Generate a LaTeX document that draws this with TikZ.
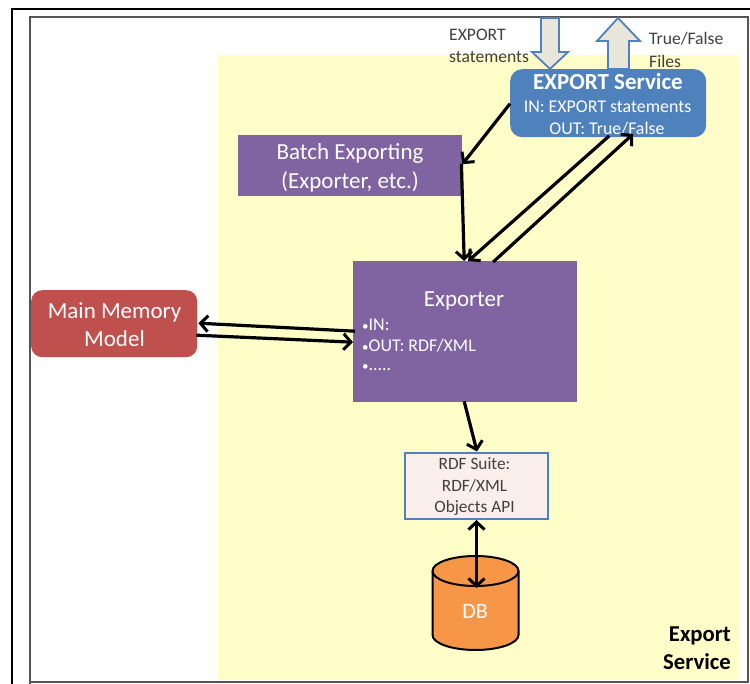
\documentclass[tikz,border=0pt]{standalone}
\usepackage{fontspec}
\setmainfont{Carlito}
\usetikzlibrary{arrows.meta,shapes.geometric,calc}
\definecolor{yel}{HTML}{FFFDC8}
\definecolor{purp}{HTML}{8064A2}
\definecolor{blu}{HTML}{4F81BD}
\definecolor{redb}{HTML}{C0504D}
\definecolor{org}{HTML}{F79646}
\definecolor{pinkb}{HTML}{FBEFEC}
\definecolor{bigfill}{HTML}{E8E6DA}
\definecolor{inner}{HTML}{555555}
\newcommand{\smallbul}{{\fontsize{13}{13}\selectfont •}}
\tikzset{
  x=1pt,y=-1pt,
  tipb/.tip={Straight Barb[length=7.5pt,width=16pt,line width=3pt]},
  boxtext/.style={text=white,align=center,inner sep=0pt},
  purpbox/.style={fill=purp,draw=none,inner sep=0pt,rectangle},
  conn/.style={draw=black,line width=3.2pt,-tipb},
  bigarrow/.style={fill=bigfill,draw=blu,line width=1.8pt,line join=miter},
  caption/.style={text=black!75,align=left,inner sep=0pt,anchor=west,font=\fontsize{17.6}{20}\selectfont},
}
\begin{document}
\begin{tikzpicture}
\useasboundingbox (0,0) rectangle (750,684);
\fill[white] (0,0) rectangle (750,684);
% frames
\draw[black,line width=2pt] (750,9.5) -- (11.5,9.5) -- (11.5,684);
\draw[inner,line width=1.2pt] (30,684) -- (30,17) -- (748,17) -- (748,682) -- (30,682);
% yellow panel
\node[fill=yel,draw=none,inner sep=0pt,minimum width=521pt,minimum height=625pt,anchor=north west] (panel) at (218,55) {};
% big arrows
\path[bigarrow] (541,18) -- (559,18) -- (559,52) -- (568,52) -- (550,69) -- (532,52) -- (541,52) -- cycle;
\path[bigarrow] (608,69) -- (608,41) -- (597,41) -- (618,18) -- (640,41) -- (629,41) -- (629,69) -- cycle;
% captions
\node[caption] (capa) at (449,35) {EXPORT};
\node[caption] (capb) at (449,57) {statements};
\node[caption] (capc) at (649,39) {True/False};
\node[caption] (capd) at (649,61) {Files};
% boxes
\node[fill=blu,draw=none,rounded corners=12pt,minimum width=196pt,minimum height=68pt,anchor=north west,inner sep=0pt] (svc) at (510,69) {};
\node[boxtext,font=\bfseries\fontsize{23}{24}\selectfont] (svct) at (608,82) {EXPORT Service};
\node[boxtext,font=\fontsize{17.9}{20}\selectfont] (svca) at (607.5,107) {IN: EXPORT statements};
\node[boxtext,font=\fontsize{17.9}{20}\selectfont] (svcb) at (607,129) {OUT: True/False};

\node[purpbox,minimum width=224pt,minimum height=61pt,anchor=north west] (batch) at (238,135) {};
\node[boxtext,font=\fontsize{23}{29}\selectfont] (batcht) at (350,167.5) {Batch Exporting\\(Exporter, etc.)};

\node[purpbox,minimum width=224pt,minimum height=141pt,anchor=north west] (exp) at (353,261) {};
\node[boxtext,font=\fontsize{23}{24}\selectfont] (expt) at (464,301) {Exporter};
\node[boxtext,anchor=west,font=\fontsize{17.9}{20}\selectfont] (expa) at (362,325) {\smallbul IN:};
\node[boxtext,anchor=west,font=\fontsize{17.9}{20}\selectfont] (expb) at (362,346) {\smallbul OUT: RDF/XML};
\node[boxtext,anchor=west,font=\fontsize{17.9}{20}\selectfont] (expc) at (362,368) {\smallbul .....};

\node[fill=redb,draw=none,rounded corners=11pt,minimum width=166pt,minimum height=67pt,anchor=north west,inner sep=0pt] (mem) at (31,290) {};
\node[boxtext,font=\fontsize{23}{28}\selectfont] (memt) at (114.5,324.5) {Main Memory\\Model};

\node[fill=pinkb,draw=blu,line width=2pt,minimum width=143pt,minimum height=66pt,anchor=north west,inner sep=0pt] (rdf) at (404,452) {};
\node[inner sep=0pt,text=black!75,align=center,font=\fontsize{17.3}{21.5}\selectfont] (rdft) at (474.5,487) {RDF Suite:\\RDF/XML\\Objects API};

% database
\node[inner sep=0pt,minimum width=87pt,minimum height=95pt,anchor=north west] (db) at (432,555) {};
\draw[fill=org,draw=black,line width=2pt] (432.5,571) -- (432.5,635) arc[start angle=180,end angle=0,x radius=43pt,y radius=-15pt] -- (518.5,571) arc[start angle=0,end angle=-180,x radius=43pt,y radius=-15pt] -- cycle;
\draw[black,line width=2pt] (432.5,571) arc[start angle=180,end angle=0,x radius=43pt,y radius=-15pt];
\node[boxtext,font=\fontsize{22}{24}\selectfont] (dbt) at (475,611) {DB};

% panel label
\node[align=right,inner sep=0pt,anchor=east,font=\bfseries\fontsize{22.7}{28}\selectfont] (lab) at (731,648) {Export\\Service};

% connector ends
\coordinate (svcL) at ([yshift=-0.5pt]svc.west);
\coordinate (batchR) at ($(batch.east)+(0,-1.5)$);
\coordinate (batchB) at ($(batch.east)+(-1,-2)$);
\coordinate (expT) at ($(exp.north)+(-1,0)$);
\coordinate (expTa) at ($(exp.north)+(3,0)$);
\coordinate (expTb) at ($(exp.north)+(28,1)$);
\coordinate (svcBa) at ($(svc.south)+(1,-1.5)$);
\coordinate (svcBb) at ($(svc.south)+(25,-3.5)$);
\coordinate (expLa) at ($(exp.west)+(2,-0.5)$);
\coordinate (expLb) at ($(exp.west)+(0,10.5)$);
\coordinate (memRa) at ($(mem.east)+(1,-0.5)$);
\coordinate (memRb) at ($(mem.east)+(-1,11.5)$);
\coordinate (expB) at ($(exp.south)+(-1,-1)$);
\coordinate (rdfT) at ($(rdf.north)+(0.5,-0.5)$);
\coordinate (dbB) at ($(rdf.south)+(0,68)$);

\draw[conn] (svcL) -- (batchR);
\draw[conn] (batchB) -- (expT);
\draw[conn] (svcBa) -- (expTa);
\draw[conn] (expTb) -- (svcBb);
\draw[conn] (expLa) -- (memRa);
\draw[conn] (memRb) -- (expLb);
\draw[conn] (expB) -- (rdfT);
\draw[conn,tipb-tipb] (rdf.south) -- (dbB);
\end{tikzpicture}
\end{document}
